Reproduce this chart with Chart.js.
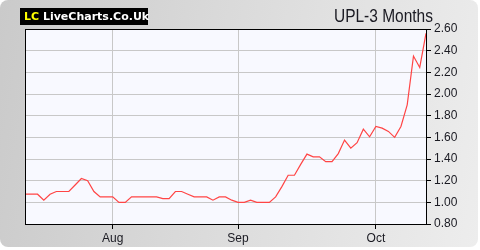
<!DOCTYPE html>
<html>
<head>
<meta charset="utf-8">
<script src="https://cdn.jsdelivr.net/npm/chart.js@4/dist/chart.umd.min.js"></script>
<style>
  html, body { margin: 0; padding: 0; background: #ffffff; }
  #wrap { position: relative; width: 480px; height: 250px; overflow: hidden; background: #fff; }
  #panel { position: absolute; left: 0; top: 0; width: 478px; height: 247px; border-radius: 8px;
           background: linear-gradient(100deg, #cacaca 0%, #dcdcdc 50%, #ededed 100%); }
  #chart { position: absolute; left: 0; top: 0; }
  #logo { position: absolute; left: 20px; top: 8px; width: 128px; height: 17px; background: #000;
          font-family: "DejaVu Sans", sans-serif; font-weight: bold; font-size: 11px; line-height: 17px;
          color: #fff; white-space: nowrap; box-sizing: border-box; padding-left: 4px; }
  #logo .lc { color: #ffff00; }
  #title { position: absolute; left: 334px; top: 5px; font-family: "Liberation Sans", Arial, sans-serif;
           font-size: 18px; line-height: 22px; color: #1a1a22; white-space: nowrap;
           transform: scaleX(0.86); transform-origin: 0 0; }
</style>
</head>
<body>
<div id="wrap">
  <div id="panel"></div>
  <canvas id="chart" width="480" height="250"></canvas>
  <div id="logo"><span class="lc">LC</span> LiveCharts.Co.Uk</div>
  <div id="title">UPL-3 Months</div>
</div>
<script>
// Chart data
const monthLabels = ['Aug', 'Sep', 'Oct'];
const monthStartIndex = [14, 34, 56];
const prices = [
  1.075, 1.075, 1.075, 1.02, 1.075, 1.10, 1.10, 1.10, 1.16, 1.22,
  1.20, 1.10, 1.05, 1.05, 1.05, 1.00, 1.00, 1.05, 1.05, 1.05,
  1.05, 1.05, 1.035, 1.035, 1.10, 1.10, 1.075, 1.05, 1.05, 1.05,
  1.02, 1.05, 1.05, 1.02, 1.00, 1.00, 1.02, 1.00, 1.00, 1.00,
  1.05, 1.145, 1.25, 1.25, 1.35, 1.445, 1.42, 1.42, 1.375, 1.375,
  1.45, 1.575, 1.50, 1.55, 1.675, 1.605, 1.70, 1.685, 1.655, 1.60,
  1.70, 1.90, 2.35, 2.245, 2.56
];
const yMin = 0.8;
const yMax = 2.6;
const yStep = 0.2;

const categories = prices.map((_, i) => {
  const k = monthStartIndex.indexOf(i);
  return k >= 0 ? monthLabels[k] : '';
});

const plotArea = {
  id: 'plotArea',
  beforeDraw(chart) {
    const { ctx, chartArea: a } = chart;
    ctx.save();
    ctx.fillStyle = '#f8f9ff';
    ctx.fillRect(a.left, a.top, a.right - a.left, a.bottom - a.top);
    ctx.restore();
  },
  afterDraw(chart) {
    const { ctx, chartArea: a } = chart;
    ctx.save();
    ctx.strokeStyle = '#000';
    ctx.lineWidth = 1;
    ctx.strokeRect(Math.round(a.left) + 0.5, Math.round(a.top) + 0.5,
                   Math.round(a.right - a.left), Math.round(a.bottom - a.top));
    ctx.restore();
  }
};

new Chart(document.getElementById('chart'), {
  type: 'line',
  data: {
    labels: categories,
    datasets: [{
      data: prices,
      borderColor: '#ff4545',
      borderWidth: 1.2,
      pointRadius: 0,
      tension: 0,
      fill: false
    }]
  },
  options: {
    responsive: false,
    devicePixelRatio: 1,
    animation: false,
    layout: { padding: { left: 25, top: 29, right: 0, bottom: 0 } },
    plugins: { legend: { display: false }, tooltip: { enabled: false }, title: { display: false } },
    scales: {
      x: {
        type: 'category',
        offset: false,
        afterFit(scale) { scale.height = 26; },
        border: { display: false },
        grid: {
          color: (c) => (c.tick && c.tick.label ? '#c8c8c8' : 'rgba(0,0,0,0)'),
          tickColor: (c) => (c.tick && c.tick.label ? '#000' : 'rgba(0,0,0,0)'),
          tickLength: 5,
          lineWidth: 1
        },
        ticks: {
          autoSkip: false,
          maxRotation: 0,
          minRotation: 0,
          padding: 2,
          color: '#1a1a22',
          font: { family: '"Liberation Sans", Arial, sans-serif', size: 12 }
        }
      },
      y: {
        position: 'right',
        min: yMin,
        max: yMax,
        afterFit(scale) { scale.width = 54; },
        border: { display: false },
        grid: { color: '#c8c8c8', tickColor: '#000', tickLength: 5, lineWidth: 1 },
        ticks: {
          stepSize: yStep,
          padding: 3,
          color: '#1a1a22',
          font: { family: '"Liberation Sans", Arial, sans-serif', size: 12 },
          callback: (v) => Number(v).toFixed(2)
        }
      }
    }
  },
  plugins: [plotArea]
});
</script>
</body>
</html>
